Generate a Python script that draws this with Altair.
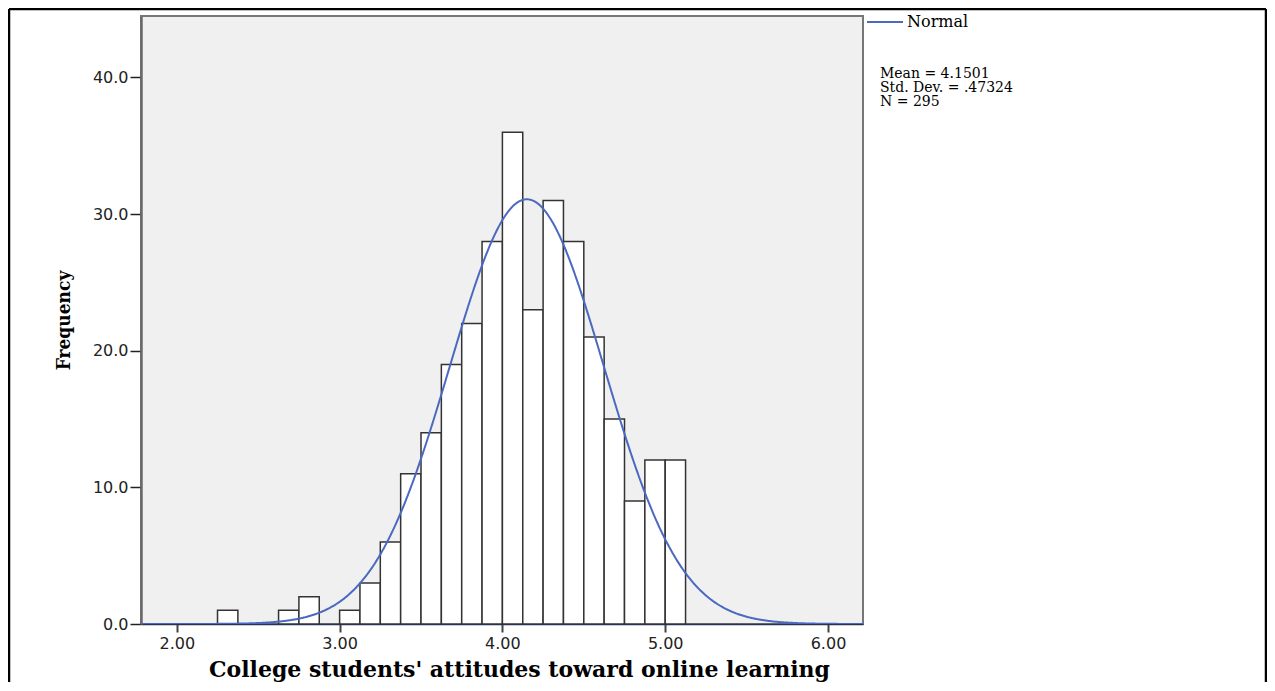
import altair as alt
import pandas as pd

# ---- data ----
bin_start = [2.25, 2.625, 2.75, 3.0, 3.125, 3.25, 3.375, 3.5, 3.625, 3.75,
             3.875, 4.0, 4.125, 4.25, 4.375, 4.5, 4.625, 4.75, 4.875, 5.0]
frequency = [1, 1, 2, 1, 3, 6, 11, 14, 19, 22,
             28, 36, 23, 31, 28, 21, 15, 9, 12, 12]
bin_width = 0.125
mean_value = 4.1501
std_dev = 0.47324
n_total = 295
x_ticks = [2, 3, 4, 5, 6]
y_ticks = [0, 10, 20, 30, 40]
x_domain = [1.78, 6.215]
y_domain = [0, 44.5]
x_title = "College students' attitudes toward online learning"
y_title = "Frequency"
legend_label = "Normal"
stats_lines = ["Mean = 4.1501", "Std. Dev. = .47324", "N = 295"]

curve_color = "#4b69c0"

bars_df = pd.DataFrame({"x": bin_start, "y": frequency})

x_scale = alt.Scale(domain=x_domain, nice=False, zero=False)
y_scale = alt.Scale(domain=y_domain, nice=False, zero=True)

x_axis = alt.Axis(
    values=x_ticks, format=".2f", title=x_title, grid=False,
    domainColor="#2b3050", domainWidth=1.5,
    tickColor="#444444", tickWidth=2, tickSize=8,
    labelFont="DejaVu Sans", labelFontSize=16, labelColor="#222222", labelPadding=3,
    titleFont="DejaVu Serif", titleFontSize=22, titleFontWeight="bold", titleColor="#000000",
    titleX=378, titleY=52, titleAlign="center", titleBaseline="alphabetic",
)
y_axis = alt.Axis(
    values=y_ticks, format=".1f", title=y_title, grid=False,
    domainColor="#6a6a6a", domainWidth=2.5,
    tickColor="#222222", tickWidth=1.5, tickSize=11,
    labelFont="DejaVu Sans", labelFontSize=16, labelColor="#222222", labelPadding=2,
    titleFont="DejaVu Serif Condensed", titleFontSize=19, titleFontWeight="bold", titleColor="#000000",
    titleAngle=270, titleX=-78, titleY=304, titleAlign="center", titleBaseline="middle",
)

bars = alt.Chart(bars_df).transform_calculate(
    x_end=f"datum.x + {bin_width}"
).mark_bar(fill="white", stroke="#333333", strokeWidth=1.5, clip=True).encode(
    x=alt.X("x:Q", scale=x_scale, axis=x_axis),
    x2="x_end:Q",
    y=alt.Y("y:Q", scale=y_scale, axis=y_axis),
    y2=alt.datum(0),
)

density_expr = (
    f"{n_total * bin_width} / ({std_dev} * sqrt(2 * PI)) * "
    f"exp(-0.5 * pow((datum.x - {mean_value}) / {std_dev}, 2))"
)
curve = alt.Chart(
    alt.sequence(start=x_domain[0], stop=x_domain[1] + 0.001, step=0.005, as_="x")
).transform_calculate(
    y=density_expr
).mark_line(color=curve_color, strokeWidth=2, clip=True).encode(
    x=alt.X("x:Q", scale=x_scale, axis=x_axis),
    y=alt.Y("y:Q", scale=y_scale, axis=y_axis),
)

one = pd.DataFrame({"label": [legend_label], "stats": ["\n".join(stats_lines)]})

legend_line = alt.Chart(one).mark_rule(color=curve_color, strokeWidth=2).encode(
    x=alt.value(726), x2=alt.value(762), y=alt.value(6)
)
legend_text = alt.Chart(one).mark_text(
    align="left", baseline="middle", font="DejaVu Serif", fontSize=16, color="#000000"
).encode(x=alt.value(766), y=alt.value(6), text="label:N")

stats_text = alt.Chart(one).mark_text(
    align="left", baseline="alphabetic", font="DejaVu Serif", fontSize=14,
    color="#000000", lineBreak="\n", lineHeight=14
).encode(x=alt.value(739), y=alt.value(62), text="stats:N")

# outer frame of the figure
frame_left = alt.Chart(one).mark_rule(color="#000000", strokeWidth=2.5).encode(
    x=alt.value(-132), y=alt.value(-7), y2=alt.value(700)
)
frame_top = alt.Chart(one).mark_rule(color="#000000", strokeWidth=2.5).encode(
    x=alt.value(-132), x2=alt.value(1125), y=alt.value(-7)
)
frame_right = alt.Chart(one).mark_rule(color="#000000", strokeWidth=2.5).encode(
    x=alt.value(1125), y=alt.value(-7), y2=alt.value(700)
)

chart = alt.layer(
    bars, curve, legend_line, legend_text, stats_text, frame_left, frame_top, frame_right
).properties(
    width=722, height=608,
    autosize=alt.AutoSizeParams(type="none"),
    padding={"left": 133, "top": 8, "right": 404, "bottom": 58},
    background="white",
).configure_view(
    fill="#f0f0f0", stroke="#777777", strokeWidth=2
)

chart.save("out.html", embed_options={"renderer": "svg", "actions": False})
